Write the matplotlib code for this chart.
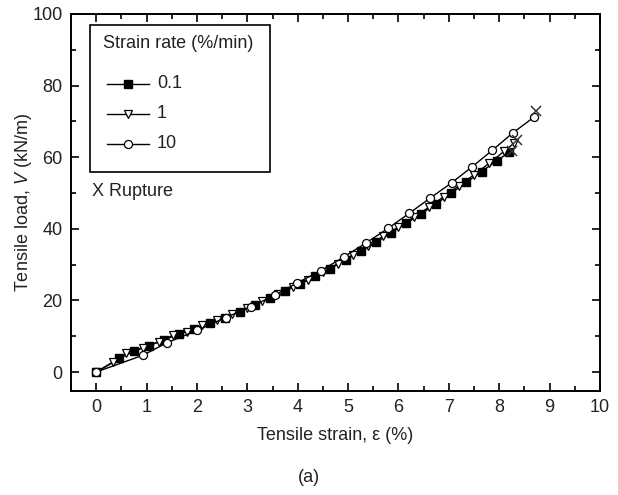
import matplotlib
matplotlib.use("Agg")
import matplotlib.pyplot as plt
from matplotlib.ticker import MultipleLocator
from matplotlib.lines import Line2D
from matplotlib.patches import Rectangle

plt.rcParams['font.family'] = ['Liberation Sans', 'DejaVu Sans']
plt.rcParams['mathtext.fontset'] = 'custom'
plt.rcParams['mathtext.rm'] = 'Liberation Sans'
plt.rcParams['mathtext.it'] = 'Liberation Sans:italic'

# 0.1 %/min (filled squares)
x_01 = [0, 0.45, 0.75, 1.05, 1.35, 1.65, 1.95, 2.25, 2.55, 2.85, 3.15, 3.45, 3.75, 4.05,
        4.35, 4.65, 4.95, 5.25, 5.55, 5.85, 6.15, 6.45, 6.75, 7.05, 7.35, 7.65, 7.95, 8.2]
y_01 = [0, 3.8, 5.8, 7.4, 9.0, 10.6, 12.1, 13.6, 15.2, 16.9, 18.7, 20.6, 22.6, 24.6,
        26.7, 28.9, 31.3, 33.7, 36.2, 38.8, 41.5, 44.2, 47.0, 50.0, 53.0, 56.0, 59.0, 61.4]
# 1 %/min (open triangles)
x_1 = [0, 0.34, 0.6, 0.92, 1.24, 1.53, 1.8, 2.1, 2.4, 2.7, 3.0, 3.3, 3.6, 3.9, 4.2, 4.5,
       4.8, 5.1, 5.4, 5.7, 6.0, 6.3, 6.6, 6.9, 7.2, 7.5, 7.8, 8.1, 8.3]
y_1 = [0, 2.7, 5.2, 6.8, 8.4, 10.3, 11.2, 13.1, 14.4, 16.3, 17.9, 19.8, 21.7, 23.8, 25.8, 28.0,
       30.3, 32.8, 35.3, 37.9, 40.5, 43.2, 46.0, 49.0, 52.0, 55.1, 58.3, 61.7, 64.0]
# 10 %/min (open circles)
x_10 = [0, 0.93, 1.41, 2.0, 2.57, 3.08, 3.54, 3.99, 4.46, 4.91, 5.35, 5.79, 6.21, 6.63,
        7.06, 7.46, 7.86, 8.27, 8.69]
y_10 = [0, 4.7, 8.2, 11.6, 15.2, 18.3, 21.4, 24.9, 28.3, 32.1, 36.0, 40.1, 44.3, 48.6,
        52.9, 57.3, 61.9, 66.8, 71.2]
# rupture points
rup_x = [8.25, 8.35, 8.73]
rup_y = [61.7, 64.9, 72.8]

labels = ['0.1', '1', '10']
legend_title = 'Strain rate (%/min)'

FS = 13
TXT = '#222222'
W, H = 618, 495

def fx(px):
    return px / W

def fy(py):
    return 1 - py / H

fig = plt.figure(figsize=(6.18, 4.95), dpi=100)
ax = fig.add_axes([fx(71), fy(391), (600 - 71) / W, (391 - 14) / H])

ms = 5.2
styles = [
    dict(marker='s', ms=ms, mfc='black', mec='black'),
    dict(marker='v', ms=ms + 0.8, mfc='white', mec='black', mew=0.9),
    dict(marker='o', ms=ms + 0.6, mfc='white', mec='black', mew=0.9),
]
series = [(x_01, y_01), (x_1, y_1), (x_10, y_10)]
for i, ((xs, ys), st) in enumerate(zip(series, styles)):
    ax.plot(xs, ys, '-', color='black', lw=1.0, zorder=3 + i, **st)
ax.plot(rup_x, rup_y, 'x', color='#333333', ms=7, mew=1.1, zorder=6)

ax.set_xlim(-0.5, 10)
ax.set_ylim(-5.3, 100)
ax.xaxis.set_major_locator(MultipleLocator(1))
ax.xaxis.set_minor_locator(MultipleLocator(0.5))
ax.yaxis.set_major_locator(MultipleLocator(20))
ax.yaxis.set_minor_locator(MultipleLocator(10))
ax.tick_params(which='both', direction='in', top=True, right=True, width=1.2,
               labelsize=FS, colors='black', labelcolor=TXT)
ax.tick_params(which='major', length=6, pad=6)
ax.tick_params(which='minor', length=3.5)
for s in ax.spines.values():
    s.set_linewidth(1.4)

ax.set_xlabel('Tensile strain, ε (%)', fontsize=FS, labelpad=8, color=TXT)
ax.set_ylabel('Tensile load, $V$ (kN/m)', fontsize=FS, labelpad=-1, color=TXT)

# Legend box drawn in figure coordinates
fig.add_artist(Rectangle((fx(90), fy(172)), (270 - 90) / W, (172 - 25) / H,
                         transform=fig.transFigure, fill=False, edgecolor='black',
                         linewidth=1.2, zorder=10))
fig.text(fx(103), fy(44), legend_title, fontsize=FS, va='center', ha='left', color=TXT)
for lab, st, py in zip(labels, styles, [83.5, 114, 144]):
    fig.add_artist(Line2D([fx(107), fx(149)], [fy(py), fy(py)], transform=fig.transFigure,
                          color='black', lw=1.0, zorder=10))
    fig.add_artist(Line2D([fx(128)], [fy(py)], transform=fig.transFigure,
                          color='black', lw=0, zorder=11, **st))
    fig.text(fx(157), fy(py), lab, fontsize=FS, va='center', ha='left', color=TXT)

fig.text(fx(92), fy(192), 'X Rupture', fontsize=FS, va='center', ha='left', color=TXT)
fig.text(fx(309), fy(478), '(a)', fontsize=FS, va='center', ha='center', color=TXT)

fig.savefig('out.png', dpi=100)
